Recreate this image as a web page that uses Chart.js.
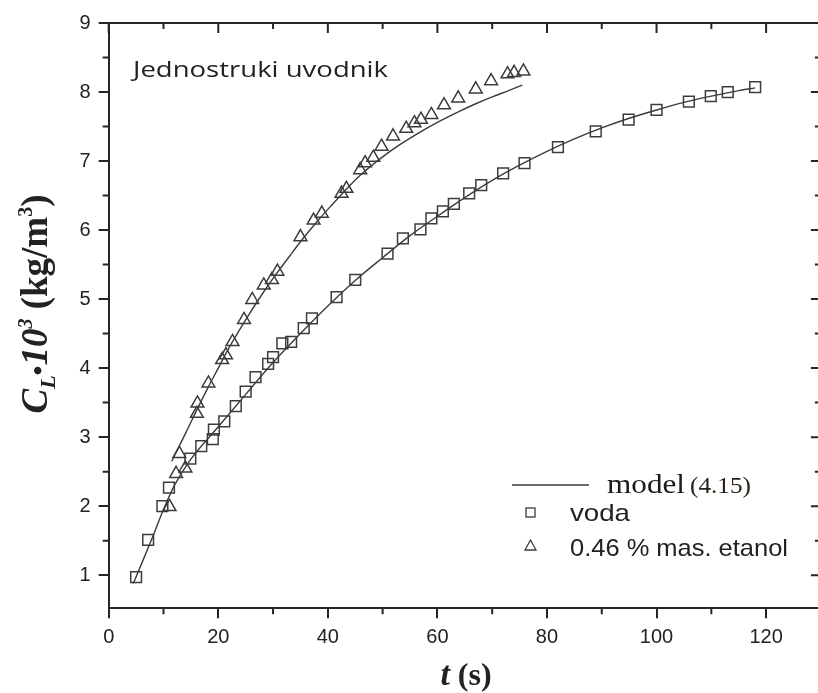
<!DOCTYPE html>
<html>
<head>
<meta charset="utf-8">
<script src="https://cdn.jsdelivr.net/npm/chart.js@4.4.1/dist/chart.umd.min.js"></script>
<style>
  html, body { margin: 0; padding: 0; background: #fff; }
  #wrap { width: 818px; height: 693px; overflow: hidden; }
  #wrap canvas { display: block; }
</style>
</head>
<body>
<div id="wrap"><canvas id="chart" width="830" height="693"></canvas></div>
<script>
// measured points, voda (squares)
const vodaT = [5.0, 7.2, 9.8, 11.0, 14.9, 16.9, 19.0, 19.2, 21.1, 23.2, 25.0, 26.8, 29.1, 30.0,
  31.7, 33.3, 35.6, 37.1, 41.6, 45.0, 50.9, 53.7, 56.9, 58.9, 61.0, 63.0, 65.8, 68.0,
  72.0, 75.9, 82.0, 88.9, 94.9, 100.0, 105.9, 109.9, 113.0, 118.0];
const vodaC = [0.97, 1.51, 2.0, 2.27, 2.69, 2.87, 2.97, 3.11, 3.23, 3.45, 3.66, 3.87, 4.06, 4.16,
  4.36, 4.38, 4.58, 4.72, 5.03, 5.28, 5.66, 5.88, 6.01, 6.17, 6.27, 6.38, 6.53, 6.65,
  6.82, 6.97, 7.20, 7.43, 7.60, 7.74, 7.86, 7.94, 8.00, 8.07];

// measured points, 0.46 % etanol (triangles)
const etanolT = [11.1, 12.3, 12.9, 14.0, 16.1, 16.2, 18.2, 20.7, 21.4, 22.6, 24.7, 26.2, 28.3,
  29.8, 30.8, 35.0, 37.4, 38.9, 42.5, 43.4, 45.9, 46.8, 48.3, 49.8, 51.9, 54.3, 55.8,
  57.0, 58.9, 61.2, 63.8, 67.0, 69.8, 72.8, 74.0, 75.7];
const etanolC = [1.99, 2.47, 2.76, 2.55, 3.34, 3.49, 3.78, 4.12, 4.19, 4.38, 4.70, 4.99, 5.20,
  5.28, 5.40, 5.90, 6.14, 6.24, 6.53, 6.60, 6.87, 6.97, 7.05, 7.21, 7.36, 7.47, 7.55,
  7.60, 7.67, 7.81, 7.91, 8.04, 8.16, 8.26, 8.28, 8.30];

// model (4.15) curves
const modelVodaT = [4.5, 8, 10, 12, 15, 20, 25, 30, 35, 40, 45, 50, 55, 60, 65, 70, 75, 80,
  85, 90, 95, 100, 105, 110, 115, 118];
const modelVodaC = [0.88, 1.55, 1.95, 2.3, 2.68, 3.15, 3.62, 4.08, 4.5, 4.9, 5.27, 5.6, 5.92,
  6.2, 6.47, 6.72, 6.94, 7.14, 7.32, 7.48, 7.62, 7.74, 7.85, 7.94, 8.02, 8.06];
const modelEtanolT = [11.5, 14, 16, 18, 20, 22, 25, 28, 30, 33, 35, 38, 40, 43, 46, 50, 53, 56,
  60, 64, 67, 70, 73, 75.5];
const modelEtanolC = [2.65, 3.05, 3.38, 3.7, 4.0, 4.3, 4.7, 5.07, 5.3, 5.62, 5.83, 6.12, 6.3,
  6.56, 6.8, 7.06, 7.23, 7.38, 7.56, 7.72, 7.83, 7.93, 8.02, 8.1];

const xTicks = [0, 20, 40, 60, 80, 100, 120];
const yTicks = [1, 2, 3, 4, 5, 6, 7, 8, 9];
const xMinor = [10, 30, 50, 70, 90, 110];
const yMinor = [1.5, 2.5, 3.5, 4.5, 5.5, 6.5, 7.5, 8.5];

const INK = "#262626";
const MARK = "#3c3c3c";
const SANS = "'Liberation Sans', Arial, sans-serif";
const SERIF = "'Liberation Serif', 'Times New Roman', serif";

function pairs(xs, ys) {
  return xs.map((x, i) => ({ x, y: ys[i] }));
}

function drawRun(ctx, parts, x, y) {
  // parts: [text, font, dy]
  let cx = x;
  parts.forEach(([t, f, dy]) => {
    ctx.font = f;
    ctx.fillText(t, cx, y + (dy || 0));
    cx += ctx.measureText(t).width;
  });
  return cx - x;
}

function runWidth(ctx, parts) {
  let w = 0;
  parts.forEach(([t, f]) => {
    ctx.font = f;
    w += ctx.measureText(t).width;
  });
  return w;
}

// text stretched to the width it has in the picture
function wideText(ctx, text, font, x, y, width) {
  ctx.font = font;
  const sx = width / ctx.measureText(text).width;
  ctx.save();
  ctx.translate(x, y);
  ctx.scale(sx, 1);
  ctx.fillText(text, 0, 0);
  ctx.restore();
}

const decor = {
  id: "decor",
  afterDraw(chart) {
    const { ctx, chartArea: a } = chart;
    const xs = chart.scales.x;
    const ys = chart.scales.y;
    ctx.save();
    ctx.strokeStyle = INK;
    ctx.lineWidth = 2;
    ctx.beginPath();
    ctx.moveTo(a.left - 1, a.top);
    ctx.lineTo(a.right, a.top);
    ctx.moveTo(a.right, a.top);
    ctx.lineTo(a.right, a.bottom);
    ctx.stroke();

    ctx.beginPath();
    xTicks.forEach((v) => {
      const px = xs.getPixelForValue(v);
      ctx.moveTo(px, a.top);
      ctx.lineTo(px, a.top + 10);
    });
    xMinor.forEach((v) => {
      const px = xs.getPixelForValue(v);
      ctx.moveTo(px, a.bottom);
      ctx.lineTo(px, a.bottom + 6);
      ctx.moveTo(px, a.top);
      ctx.lineTo(px, a.top + 6);
    });
    yTicks.forEach((v) => {
      const py = ys.getPixelForValue(v);
      ctx.moveTo(a.right, py);
      ctx.lineTo(a.right - 10, py);
    });
    yMinor.forEach((v) => {
      const py = ys.getPixelForValue(v);
      ctx.moveTo(a.left, py);
      ctx.lineTo(a.left - 6, py);
      ctx.moveTo(a.right, py);
      ctx.lineTo(a.right - 6, py);
    });
    ctx.stroke();

    // annotation
    ctx.fillStyle = "#222";
    ctx.textBaseline = "alphabetic";
    ctx.textAlign = "left";
    wideText(ctx, "Jednostruki uvodnik", "22px 'Open Sans', sans-serif", 133, 77, 255);

    // y title
    const yParts = [
      ["C", "italic bold 37px " + SERIF, 0],
      ["L", "italic bold 22px " + SERIF, 8],
      ["\u2022", "bold 28px " + SERIF, 0],
      ["10", "italic bold 37px " + SERIF, 0],
      ["3", "italic bold 20px " + SERIF, -15],
      [" (kg/m", "bold 37px " + SERIF, 0],
      ["3", "bold 20px " + SERIF, -15],
      [")", "bold 37px " + SERIF, 0],
    ];
    ctx.save();
    ctx.translate(47, 304);
    ctx.rotate(-Math.PI / 2);
    const yw = runWidth(ctx, yParts);
    drawRun(ctx, yParts, -yw / 2, 0);
    ctx.restore();

    // x title
    const xParts = [
      ["t", "italic bold 34px " + SERIF, 0],
      [" (s)", "bold 32px " + SERIF, 0],
    ];
    const xw = runWidth(ctx, xParts);
    drawRun(ctx, xParts, 466 - xw / 2, 685);

    // legend
    ctx.strokeStyle = MARK;
    ctx.lineWidth = 1.5;
    ctx.beginPath();
    ctx.moveTo(512, 485);
    ctx.lineTo(589, 485);
    ctx.stroke();
    ctx.fillStyle = "#1e1a16";
    wideText(ctx, "model", "27px " + SERIF, 607, 493, 78);
    ctx.fillStyle = "#2a2218";
    wideText(ctx, "(4.15)", "23px " + SERIF, 690, 493, 61);

    ctx.lineWidth = 1.3;
    ctx.strokeRect(526, 508, 9, 9);
    ctx.beginPath();
    ctx.moveTo(530.5, 540);
    ctx.lineTo(536, 550);
    ctx.lineTo(525, 550);
    ctx.closePath();
    ctx.stroke();

    ctx.fillStyle = "#222";
    wideText(ctx, "voda", "24px " + SANS, 570, 521, 60);
    wideText(ctx, "0.46 % mas. etanol", "24px " + SANS, 570, 556, 218);
    ctx.restore();
  },
};

const chart = new Chart(document.getElementById("chart"), {
  type: "scatter",
  data: {
    datasets: [
      {
        label: "model voda",
        data: pairs(modelVodaT, modelVodaC),
        showLine: true,
        borderColor: MARK,
        borderWidth: 1.4,
        pointRadius: 0,
        cubicInterpolationMode: "monotone",
      },
      {
        label: "model etanol",
        data: pairs(modelEtanolT, modelEtanolC),
        showLine: true,
        borderColor: MARK,
        borderWidth: 1.4,
        pointRadius: 0,
        cubicInterpolationMode: "monotone",
      },
      {
        label: "voda",
        data: pairs(vodaT, vodaC),
        pointStyle: "rect",
        pointRadius: 7.6,
        borderColor: MARK,
        borderWidth: 1.5,
        backgroundColor: "rgba(0,0,0,0)",
      },
      {
        label: "0.46 % mas. etanol",
        data: pairs(etanolT, etanolC),
        pointStyle: "triangle",
        pointRadius: 7.4,
        borderColor: MARK,
        borderWidth: 1.5,
        backgroundColor: "rgba(0,0,0,0)",
      },
    ],
  },
  options: {
    responsive: false,
    animation: false,
    devicePixelRatio: 1,
    layout: { padding: { top: 23, right: 4.3, left: 0, bottom: 0 } },
    plugins: {
      legend: { display: false },
      tooltip: { enabled: false },
    },
    scales: {
      x: {
        type: "linear",
        min: 0,
        max: 130,
        afterBuildTicks: (s) => { s.ticks = xTicks.map((v) => ({ value: v })); },
        afterFit: (s) => { s.height = 84.7; },
        ticks: { color: "#222", font: { family: SANS, size: 20 }, padding: 7 },
        grid: { drawOnChartArea: false, color: INK, lineWidth: 2, tickLength: 10 },
        border: { color: INK, width: 2 },
      },
      y: {
        type: "linear",
        min: 0.52,
        max: 9,
        afterBuildTicks: (s) => { s.ticks = yTicks.map((v) => ({ value: v })); },
        afterFit: (s) => { s.width = 108.7; },
        ticks: { color: "#222", font: { family: SANS, size: 20 }, padding: 8 },
        grid: { drawOnChartArea: false, color: INK, lineWidth: 2, tickLength: 10 },
        border: { color: INK, width: 2 },
      },
    },
  },
  plugins: [decor],
});
</script>
</body>
</html>
